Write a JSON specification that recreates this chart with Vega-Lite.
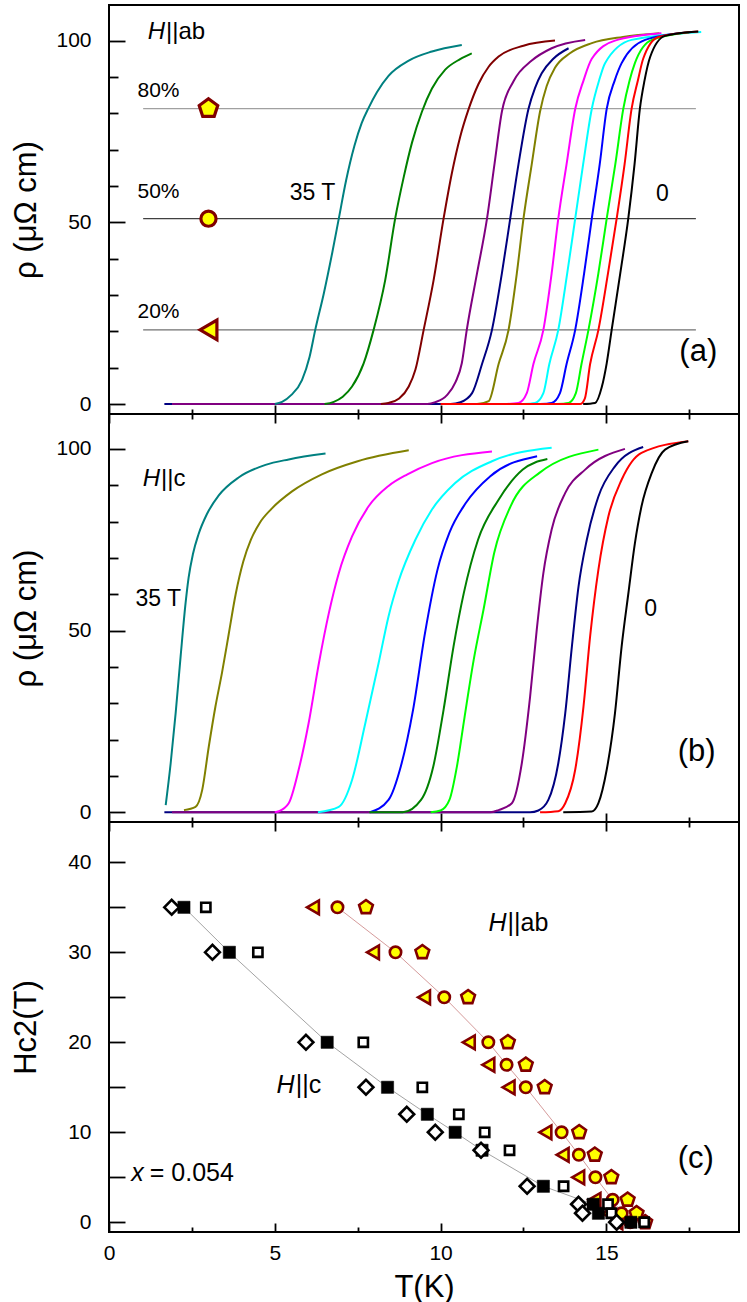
{
"$schema": "https://vega.github.io/schema/vega-lite/v6.json",
"padding": {"left": 9, "top": 4, "right": 0, "bottom": 0},
"spacing": 0,
"bounds": "flush",
"config": {
  "view": {"stroke": "black", "strokeWidth": 2},
  "font": "Liberation Sans",
  "axis": {"domain": false, "grid": false, "labelFont": "Liberation Sans", "labelFontSize": 21, "labelColor": "black", "tickColor": "black", "tickWidth": 1.8, "titleFont": "Liberation Sans", "titleFontSize": 31, "titleFontWeight": "normal", "titleColor": "black", "labelOverlap": false, "labelFlush": false, "labelBound": false}
},
"datasets": {
  "levels": [
    {"k": "ab80", "r": 81.3, "T": 1.03, "T2": 17.7},
    {"k": "ab50", "r": 51.0, "T": 1.03, "T2": 17.7},
    {"k": "ab20", "r": 20.4, "T": 1.03, "T2": 17.7}
  ],
  "levelMarks": [
    {"k": "ab80", "r": 81.3, "T": 3.0},
    {"k": "ab50", "r": 51.0, "T": 3.0},
    {"k": "ab20", "r": 20.4, "T": 3.0}
  ],
  "curvesA": [
    {"s":"a17.5","T":1.67,"r":0},{"s":"a17.5","T":10.3,"r":0},{"s":"a17.5","T":10.6,"r":0.5},{"s":"a17.5","T":10.95,"r":3},{"s":"a17.5","T":11.25,"r":11},{"s":"a17.5","T":11.55,"r":20.4},{"s":"a17.5","T":11.85,"r":36},{"s":"a17.5","T":12.1,"r":51},{"s":"a17.5","T":12.35,"r":66},{"s":"a17.5","T":12.65,"r":81.2},{"s":"a17.5","T":12.85,"r":87},{"s":"a17.5","T":13.05,"r":91},{"s":"a17.5","T":13.4,"r":95},{"s":"a17.5","T":13.86,"r":97.9},
    {"s":"a20","T":1.9,"r":0},{"s":"a20","T":9.6,"r":0},{"s":"a20","T":9.84,"r":0.5},{"s":"a20","T":10.2,"r":2.5},{"s":"a20","T":10.45,"r":6},{"s":"a20","T":10.64,"r":11.2},{"s":"a20","T":10.79,"r":20.4},{"s":"a20","T":11.1,"r":36},{"s":"a20","T":11.4,"r":51},{"s":"a20","T":11.63,"r":66.3},{"s":"a20","T":11.85,"r":80.5},{"s":"a20","T":12.2,"r":88.8},{"s":"a20","T":12.75,"r":94.5},{"s":"a20","T":13.35,"r":97.9},{"s":"a20","T":14.36,"r":100.2},
    {"s":"a35","T":5.0,"r":0},{"s":"a35","T":5.22,"r":0.6},{"s":"a35","T":5.5,"r":2.5},{"s":"a35","T":5.82,"r":6.6},{"s":"a35","T":6.05,"r":13},{"s":"a35","T":6.22,"r":20.4},{"s":"a35","T":6.48,"r":30.5},{"s":"a35","T":6.73,"r":41.5},{"s":"a35","T":6.93,"r":51},{"s":"a35","T":7.15,"r":61.5},{"s":"a35","T":7.4,"r":71},{"s":"a35","T":7.62,"r":77.3},{"s":"a35","T":7.83,"r":81.5},{"s":"a35","T":8.08,"r":85.8},{"s":"a35","T":8.43,"r":90.3},{"s":"a35","T":9.04,"r":94.5},{"s":"a35","T":9.74,"r":97},{"s":"a35","T":10.64,"r":98.8},
    {"s":"a30","T":6.5,"r":0},{"s":"a30","T":6.78,"r":0.6},{"s":"a30","T":7.05,"r":2},{"s":"a30","T":7.33,"r":4.8},{"s":"a30","T":7.68,"r":11.2},{"s":"a30","T":7.98,"r":20.4},{"s":"a30","T":8.33,"r":34.1},{"s":"a30","T":8.63,"r":51},{"s":"a30","T":8.89,"r":62.5},{"s":"a30","T":9.14,"r":72},{"s":"a30","T":9.44,"r":80.5},{"s":"a30","T":9.74,"r":86.8},{"s":"a30","T":10.14,"r":92},{"s":"a30","T":10.59,"r":94.9},{"s":"a30","T":10.94,"r":96.5},
    {"s":"a25","T":8.2,"r":0},{"s":"a25","T":8.43,"r":0.3},{"s":"a25","T":8.75,"r":1.5},{"s":"a25","T":9.04,"r":4.8},{"s":"a25","T":9.24,"r":9.4},{"s":"a25","T":9.49,"r":20.4},{"s":"a25","T":9.79,"r":34.1},{"s":"a25","T":10.09,"r":51},{"s":"a25","T":10.34,"r":63.5},{"s":"a25","T":10.59,"r":73.5},{"s":"a25","T":10.84,"r":81},{"s":"a25","T":11.14,"r":88},{"s":"a25","T":11.45,"r":92.8},{"s":"a25","T":11.75,"r":95.6},{"s":"a25","T":12.5,"r":98.6},{"s":"a25","T":13.45,"r":100},
    {"s":"a15","T":11.1,"r":0},{"s":"a15","T":11.45,"r":0.8},{"s":"a15","T":11.75,"r":11},{"s":"a15","T":12.05,"r":20.4},{"s":"a15","T":12.3,"r":36},{"s":"a15","T":12.5,"r":51},{"s":"a15","T":12.75,"r":66},{"s":"a15","T":13.0,"r":80.5},{"s":"a15","T":13.2,"r":87.5},{"s":"a15","T":13.45,"r":92.5},{"s":"a15","T":13.9,"r":96.5},{"s":"a15","T":14.56,"r":99.3},{"s":"a15","T":15.5,"r":101},{"s":"a15","T":16.6,"r":102},
    {"s":"a10","T":12.0,"r":0},{"s":"a10","T":12.35,"r":0.3},{"s":"a10","T":12.6,"r":3},{"s":"a10","T":12.8,"r":11},{"s":"a10","T":13.1,"r":20.4},{"s":"a10","T":13.35,"r":36},{"s":"a10","T":13.55,"r":51},{"s":"a10","T":13.8,"r":66},{"s":"a10","T":14.06,"r":81.2},{"s":"a10","T":14.31,"r":89},{"s":"a10","T":14.56,"r":95},{"s":"a10","T":15.26,"r":100},{"s":"a10","T":16.66,"r":102},
    {"s":"a7.5","T":12.5,"r":0},{"s":"a7.5","T":12.85,"r":0.3},{"s":"a7.5","T":13.1,"r":3},{"s":"a7.5","T":13.28,"r":11},{"s":"a7.5","T":13.55,"r":20.4},{"s":"a7.5","T":13.82,"r":36},{"s":"a7.5","T":14.06,"r":51},{"s":"a7.5","T":14.3,"r":66},{"s":"a7.5","T":14.56,"r":81.2},{"s":"a7.5","T":14.78,"r":89},{"s":"a7.5","T":14.96,"r":93.8},{"s":"a7.5","T":15.76,"r":100.2},{"s":"a7.5","T":17.86,"r":102.4},
    {"s":"a5","T":13.0,"r":0},{"s":"a5","T":13.35,"r":0.3},{"s":"a5","T":13.6,"r":3},{"s":"a5","T":13.8,"r":11},{"s":"a5","T":14.06,"r":20.4},{"s":"a5","T":14.33,"r":36},{"s":"a5","T":14.56,"r":51},{"s":"a5","T":14.8,"r":66},{"s":"a5","T":15.01,"r":81.2},{"s":"a5","T":15.25,"r":89},{"s":"a5","T":15.46,"r":93.8},{"s":"a5","T":16.17,"r":100.2},{"s":"a5","T":17.5,"r":102.3},
    {"s":"a2.5","T":13.5,"r":0},{"s":"a2.5","T":13.86,"r":0.3},{"s":"a2.5","T":14.08,"r":3},{"s":"a2.5","T":14.25,"r":11},{"s":"a2.5","T":14.46,"r":20.4},{"s":"a2.5","T":14.76,"r":36},{"s":"a2.5","T":15.01,"r":51},{"s":"a2.5","T":15.27,"r":66},{"s":"a2.5","T":15.51,"r":81.2},{"s":"a2.5","T":15.7,"r":89},{"s":"a2.5","T":15.86,"r":93.8},{"s":"a2.5","T":16.37,"r":100.2},{"s":"a2.5","T":17.5,"r":102.3},
    {"s":"a1","T":10.0,"r":0},{"s":"a1","T":14.21,"r":0},{"s":"a1","T":14.35,"r":1.5},{"s":"a1","T":14.51,"r":11},{"s":"a1","T":14.76,"r":20.4},{"s":"a1","T":15.05,"r":36},{"s":"a1","T":15.31,"r":51},{"s":"a1","T":15.55,"r":66},{"s":"a1","T":15.76,"r":81.2},{"s":"a1","T":15.95,"r":89},{"s":"a1","T":16.11,"r":95},{"s":"a1","T":16.57,"r":101},{"s":"a1","T":17.77,"r":102.5},
    {"s":"a0","T":14.3,"r":0},{"s":"a0","T":14.66,"r":0.3},{"s":"a0","T":14.86,"r":4.6},{"s":"a0","T":15.01,"r":11.2},{"s":"a0","T":15.16,"r":20.4},{"s":"a0","T":15.42,"r":36},{"s":"a0","T":15.66,"r":51},{"s":"a0","T":15.85,"r":66},{"s":"a0","T":16.01,"r":81.2},{"s":"a0","T":16.15,"r":89},{"s":"a0","T":16.32,"r":95.5},{"s":"a0","T":16.77,"r":101.3},{"s":"a0","T":17.77,"r":102.5}
  ],
  "curvesB": [
    {"s":"b2","T":1.67,"r":0},{"s":"b2","T":12.7,"r":0},{"s":"b2","T":12.95,"r":0.5},{"s":"b2","T":13.25,"r":3.4},{"s":"b2","T":13.55,"r":13.5},{"s":"b2","T":13.76,"r":27.3},{"s":"b2","T":13.96,"r":45.6},{"s":"b2","T":14.16,"r":62.1},{"s":"b2","T":14.41,"r":75},{"s":"b2","T":14.76,"r":86.9},{"s":"b2","T":15.26,"r":95.2},{"s":"b2","T":16.11,"r":100.5},
    {"s":"b4","T":1.9,"r":0},{"s":"b4","T":11.5,"r":0},{"s":"b4","T":11.75,"r":0.6},{"s":"b4","T":12.15,"r":2.5},{"s":"b4","T":12.45,"r":13.5},{"s":"b4","T":12.7,"r":31.8},{"s":"b4","T":12.9,"r":50.2},{"s":"b4","T":13.1,"r":65.8},{"s":"b4","T":13.35,"r":77.8},{"s":"b4","T":13.76,"r":87.9},{"s":"b4","T":14.36,"r":94.3},{"s":"b4","T":15.56,"r":100},
    {"s":"b35","T":1.71,"r":2.0},{"s":"b35","T":1.86,"r":13.5},{"s":"b35","T":2.01,"r":27.3},{"s":"b35","T":2.16,"r":42.9},{"s":"b35","T":2.31,"r":57.6},{"s":"b35","T":2.4,"r":64.5},{"s":"b35","T":2.53,"r":71},{"s":"b35","T":2.7,"r":76.5},{"s":"b35","T":2.95,"r":82},{"s":"b35","T":3.31,"r":87.2},{"s":"b35","T":3.92,"r":92.2},{"s":"b35","T":4.72,"r":95.6},{"s":"b35","T":5.42,"r":97.1},{"s":"b35","T":6.53,"r":98.7},
    {"s":"b30","T":2.26,"r":0.6},{"s":"b30","T":2.61,"r":1.5},{"s":"b30","T":2.81,"r":6.1},{"s":"b30","T":3.01,"r":18.1},{"s":"b30","T":3.21,"r":29.1},{"s":"b30","T":3.41,"r":38.5},{"s":"b30","T":3.61,"r":49},{"s":"b30","T":3.82,"r":60},{"s":"b30","T":4.05,"r":69},{"s":"b30","T":4.28,"r":75},{"s":"b30","T":4.55,"r":79.7},{"s":"b30","T":4.9,"r":83.5},{"s":"b30","T":5.52,"r":88.3},{"s":"b30","T":6.42,"r":93},{"s":"b30","T":7.5,"r":96.6},{"s":"b30","T":9.04,"r":99.6},
    {"s":"b20","T":5.0,"r":0},{"s":"b20","T":5.12,"r":0.3},{"s":"b20","T":5.42,"r":2.5},{"s":"b20","T":5.72,"r":11.7},{"s":"b20","T":6.02,"r":24.5},{"s":"b20","T":6.33,"r":41},{"s":"b20","T":6.63,"r":54.8},{"s":"b20","T":6.93,"r":65.8},{"s":"b20","T":7.33,"r":75.9},{"s":"b20","T":7.83,"r":84.2},{"s":"b20","T":8.43,"r":89.8},{"s":"b20","T":9.0,"r":93},{"s":"b20","T":9.74,"r":96.1},{"s":"b20","T":11.55,"r":99.3},
    {"s":"b15","T":6.3,"r":0},{"s":"b15","T":6.93,"r":1.5},{"s":"b15","T":7.33,"r":8.9},{"s":"b15","T":7.73,"r":24.5},{"s":"b15","T":8.13,"r":41},{"s":"b15","T":8.43,"r":53.9},{"s":"b15","T":8.73,"r":63.5},{"s":"b15","T":9.24,"r":75},{"s":"b15","T":9.74,"r":83.3},{"s":"b15","T":10.44,"r":90.6},{"s":"b15","T":11.55,"r":96.6},{"s":"b15","T":13.35,"r":100.3},
    {"s":"b12","T":7.87,"r":0},{"s":"b12","T":8.43,"r":3.4},{"s":"b12","T":8.8,"r":12.6},{"s":"b12","T":9.17,"r":28.2},{"s":"b12","T":9.53,"r":49.3},{"s":"b12","T":9.9,"r":66.5},{"s":"b12","T":10.27,"r":77},{"s":"b12","T":10.76,"r":85.1},{"s":"b12","T":11.5,"r":92.5},{"s":"b12","T":12.91,"r":98},
    {"s":"b10","T":7.85,"r":0},{"s":"b10","T":8.86,"r":0},{"s":"b10","T":9.41,"r":3.4},{"s":"b10","T":9.78,"r":12.6},{"s":"b10","T":10.09,"r":28.2},{"s":"b10","T":10.39,"r":45.6},{"s":"b10","T":10.7,"r":60.3},{"s":"b10","T":11.13,"r":75},{"s":"b10","T":11.75,"r":86},{"s":"b10","T":12.48,"r":94.3},{"s":"b10","T":13.22,"r":97.2},
    {"s":"b8","T":9.7,"r":0},{"s":"b8","T":10.0,"r":0.5},{"s":"b8","T":10.27,"r":3.5},{"s":"b8","T":10.5,"r":13},{"s":"b8","T":10.72,"r":26},{"s":"b8","T":11.0,"r":42},{"s":"b8","T":11.3,"r":56},{"s":"b8","T":11.62,"r":71.5},{"s":"b8","T":12.11,"r":84.2},{"s":"b8","T":12.98,"r":93.4},{"s":"b8","T":14.76,"r":99.8},
    {"s":"b1","T":13.0,"r":0},{"s":"b1","T":13.55,"r":0.3},{"s":"b1","T":13.76,"r":2.5},{"s":"b1","T":14.06,"r":11.7},{"s":"b1","T":14.31,"r":29.1},{"s":"b1","T":14.51,"r":48.4},{"s":"b1","T":14.76,"r":66.8},{"s":"b1","T":15.06,"r":81.4},{"s":"b1","T":15.46,"r":91.5},{"s":"b1","T":16.06,"r":98.9},{"s":"b1","T":17.47,"r":102.1},
    {"s":"b0","T":13.7,"r":0},{"s":"b0","T":14.56,"r":0.2},{"s":"b0","T":14.76,"r":2.5},{"s":"b0","T":15.01,"r":11.7},{"s":"b0","T":15.26,"r":27.3},{"s":"b0","T":15.46,"r":45.6},{"s":"b0","T":15.66,"r":60},{"s":"b0","T":15.86,"r":74},{"s":"b0","T":16.06,"r":84.2},{"s":"b0","T":16.37,"r":93.4},{"s":"b0","T":16.77,"r":99.8},{"s":"b0","T":17.47,"r":102.1}
  ],
  "hc2": [
    {"k":"ab20","H":35,"T":6.15},{"k":"ab20","H":30,"T":7.96},{"k":"ab20","H":25,"T":9.5},{"k":"ab20","H":20,"T":10.85},{"k":"ab20","H":17.5,"T":11.44},{"k":"ab20","H":15,"T":12.05},{"k":"ab20","H":10,"T":13.16},{"k":"ab20","H":7.5,"T":13.68},{"k":"ab20","H":5,"T":14.15},{"k":"ab20","H":2.5,"T":14.64},{"k":"ab20","H":1,"T":15.06},{"k":"ab20","H":0,"T":15.3},
    {"k":"ab50","H":35,"T":6.89},{"k":"ab50","H":30,"T":8.64},{"k":"ab50","H":25,"T":10.11},{"k":"ab50","H":20,"T":11.44},{"k":"ab50","H":17.5,"T":11.99},{"k":"ab50","H":15,"T":12.57},{"k":"ab50","H":10,"T":13.65},{"k":"ab50","H":7.5,"T":14.17},{"k":"ab50","H":5,"T":14.67},{"k":"ab50","H":2.5,"T":15.19},{"k":"ab50","H":1,"T":15.46},{"k":"ab50","H":0,"T":15.72},
    {"k":"ab80","H":35,"T":7.75},{"k":"ab80","H":30,"T":9.45},{"k":"ab80","H":25,"T":10.83},{"k":"ab80","H":20,"T":12.03},{"k":"ab80","H":17.5,"T":12.57},{"k":"ab80","H":15,"T":13.14},{"k":"ab80","H":10,"T":14.18},{"k":"ab80","H":7.5,"T":14.65},{"k":"ab80","H":5,"T":15.15},{"k":"ab80","H":2.5,"T":15.64},{"k":"ab80","H":1,"T":15.91},{"k":"ab80","H":0,"T":16.17},
    {"k":"c80","H":35,"T":2.92},{"k":"c80","H":30,"T":4.49},{"k":"c80","H":20,"T":7.67},{"k":"c80","H":15,"T":9.45},{"k":"c80","H":12,"T":10.55},{"k":"c80","H":10,"T":11.33},{"k":"c80","H":8,"T":12.08},{"k":"c80","H":4,"T":13.71},{"k":"c80","H":2,"T":15.05},{"k":"c80","H":1,"T":15.15},{"k":"c80","H":0,"T":16.14},
    {"k":"c50","H":35,"T":2.26},{"k":"c50","H":30,"T":3.63},{"k":"c50","H":20,"T":6.58},{"k":"c50","H":15,"T":8.4},{"k":"c50","H":12,"T":9.6},{"k":"c50","H":10,"T":10.44},{"k":"c50","H":8,"T":11.25},{"k":"c50","H":4,"T":13.1},{"k":"c50","H":2,"T":14.6},{"k":"c50","H":1,"T":14.76},{"k":"c50","H":0,"T":15.74},
    {"k":"c20","H":35,"T":1.89},{"k":"c20","H":30,"T":3.12},{"k":"c20","H":20,"T":5.94},{"k":"c20","H":15,"T":7.75},{"k":"c20","H":12,"T":8.98},{"k":"c20","H":10,"T":9.84},{"k":"c20","H":8,"T":11.22},{"k":"c20","H":4,"T":12.61},{"k":"c20","H":2,"T":14.16},{"k":"c20","H":1,"T":14.28},{"k":"c20","H":0,"T":15.31}
  ]
},
"vconcat": [
  {
    "width": 630, "height": 409,
    "layer": [
      {
        "data": {"name": "levels"},
        "mark": {"type": "rule", "strokeWidth": 1.3},
        "encoding": {
          "x": {"field": "T", "type": "quantitative", "scale": {"domain": [0, 19], "nice": false, "zero": false},
                "axis": {"values": [0,2.5,5,7.5,10,12.5,15,17.5], "labels": false, "title": null, "tickSize": {"condition": {"test": "datum.value % 5 === 0", "value": -9}, "value": -5}}},
          "x2": {"field": "T2"},
          "y": {"field": "r", "type": "quantitative", "scale": {"domain": [-2.75, 109.8], "nice": false, "zero": false},
                "axis": {"title": "ρ (μΩ cm)", "values": [0,10,20,30,40,50,60,70,80,90,100], "labelExpr": "datum.value % 50 === 0 ? datum.label : ''", "tickSize": {"condition": {"test": "datum.value % 50 === 0", "value": -16}, "value": -9}, "labelPadding": 34, "minExtent": 55, "maxExtent": 55, "titlePadding": 12}},
          "stroke": {"field": "k", "type": "nominal", "scale": {"domain": ["ab80", "ab50", "ab20"], "range": ["#a0a0a0", "#404040", "#707070"]}, "legend": null}
        }
      },
      {
        "data": {"name": "curvesA"},
        "mark": {"type": "line", "interpolate": "monotone", "strokeWidth": 2},
        "encoding": {
          "x": {"field": "T", "type": "quantitative"},
          "y": {"field": "r", "type": "quantitative"},
          "color": {"field": "s", "type": "nominal", "legend": null,
                    "scale": {"domain": ["a35","a30","a25","a20","a17.5","a15","a10","a7.5","a5","a2.5","a1","a0","b35","b30","b20","b15","b12","b10","b8","b4","b2","b1","b0"],
                              "range": ["#008080","#008000","#800000","#800080","#000080","#808000","#ff00ff","#00ffff","#0000ff","#00ff00","#ff0000","#000000","#008080","#808000","#ff00ff","#00ffff","#0000ff","#008000","#00ff00","#800080","#000080","#ff0000","#000000"]}}
        }
      },
      {
        "data": {"name": "levelMarks"},
        "mark": {"type": "point", "filled": true, "fill": "#ffff00", "stroke": "#800000", "strokeWidth": 3.2, "opacity": 1},
        "encoding": {
          "x": {"field": "T", "type": "quantitative"},
          "y": {"field": "r", "type": "quantitative"},
          "shape": {"field": "k", "type": "nominal", "legend": null, "scale": {"domain": ["ab20","ab50","ab80","c20","c50","c80"], "range": ["triangle-left", "circle", "M0,-1L0.951,-0.309L0.588,0.809L-0.588,0.809L-0.951,-0.309Z", "diamond", "square", "square"]}},
          "size": {"condition": {"test": "datum.k === 'ab50'", "value": 230}, "value": 380}
        }
      },
      {
        "data": {"values": [{"T": 1.69, "r": 102.4, "t": "H"}]},
        "mark": {"type": "text", "font": "Liberation Sans", "fontSize": 24, "fontStyle": "italic", "align": "right", "baseline": "middle", "color": "black"},
        "encoding": {"x": {"field": "T", "type": "quantitative"}, "y": {"field": "r", "type": "quantitative"}, "text": {"field": "t"}}
      },
      {
        "data": {"values": [{"T": 1.72, "r": 102.4, "t": "||ab"}]},
        "mark": {"type": "text", "font": "Liberation Sans", "fontSize": 24, "align": "left", "baseline": "middle", "color": "black"},
        "encoding": {"x": {"field": "T", "type": "quantitative"}, "y": {"field": "r", "type": "quantitative"}, "text": {"field": "t"}}
      },
      {
        "data": {"values": [{"T": 0.86, "r": 86.0, "t": "80%"}, {"T": 0.86, "r": 58.4, "t": "50%"}, {"T": 0.86, "r": 25.2, "t": "20%"}]},
        "mark": {"type": "text", "font": "Liberation Sans", "fontSize": 21, "align": "left", "baseline": "middle", "color": "black"},
        "encoding": {"x": {"field": "T", "type": "quantitative"}, "y": {"field": "r", "type": "quantitative"}, "text": {"field": "t"}}
      },
      {
        "data": {"values": [{"T": 5.45, "r": 58.0, "t": "35 T"}, {"T": 16.5, "r": 57.8, "t": "0"}]},
        "mark": {"type": "text", "font": "Liberation Sans", "fontSize": 23, "align": "left", "baseline": "middle", "color": "black"},
        "encoding": {"x": {"field": "T", "type": "quantitative"}, "y": {"field": "r", "type": "quantitative"}, "text": {"field": "t"}}
      },
      {
        "data": {"values": [{"T": 17.2, "r": 14.3, "t": "(a)"}]},
        "mark": {"type": "text", "font": "Liberation Sans", "fontSize": 31, "align": "left", "baseline": "middle", "color": "black"},
        "encoding": {"x": {"field": "T", "type": "quantitative"}, "y": {"field": "r", "type": "quantitative"}, "text": {"field": "t"}}
      }
    ]
  },
  {
    "width": 630, "height": 408,
    "resolve": {"axis": {"x": "independent"}},
    "layer": [
      {
        "data": {"name": "curvesB"},
        "mark": {"type": "line", "interpolate": "monotone", "strokeWidth": 2},
        "encoding": {
          "x": {"field": "T", "type": "quantitative", "scale": {"domain": [0, 19], "nice": false, "zero": false},
                "axis": {"values": [0,2.5,5,7.5,10,12.5,15,17.5], "labels": false, "title": null, "tickSize": {"condition": {"test": "datum.value % 5 === 0", "value": -9}, "value": -5}}},
          "y": {"field": "r", "type": "quantitative", "scale": {"domain": [-2.67, 109.6], "nice": false, "zero": false},
                "axis": {"title": "ρ (μΩ cm)", "values": [0,10,20,30,40,50,60,70,80,90,100], "labelExpr": "datum.value % 50 === 0 ? datum.label : ''", "tickSize": {"condition": {"test": "datum.value % 50 === 0", "value": -16}, "value": -9}, "labelPadding": 34, "minExtent": 55, "maxExtent": 55, "titlePadding": 12}},
          "color": {"field": "s", "type": "nominal", "legend": null,
                    "scale": {"domain": ["a35","a30","a25","a20","a17.5","a15","a10","a7.5","a5","a2.5","a1","a0","b35","b30","b20","b15","b12","b10","b8","b4","b2","b1","b0"],
                              "range": ["#008080","#008000","#800000","#800080","#000080","#808000","#ff00ff","#00ffff","#0000ff","#00ff00","#ff0000","#000000","#008080","#808000","#ff00ff","#00ffff","#0000ff","#008000","#00ff00","#800080","#000080","#ff0000","#000000"]}},
          "strokeWidth": {"condition": {"test": "datum.s === 'b8'", "value": 3.6}, "value": 2}
        }
      },
      {
        "data": {"values": [{"T": 1.54, "r": 91.8, "t": "H"}]},
        "mark": {"type": "text", "font": "Liberation Sans", "fontSize": 24, "fontStyle": "italic", "align": "right", "baseline": "middle", "color": "black"},
        "encoding": {"x": {"field": "T", "type": "quantitative", "axis": {"orient": "top", "values": [0,2.5,5,7.5,10,12.5,15,17.5], "labels": false, "title": null, "tickSize": {"condition": {"test": "datum.value % 5 === 0", "value": -9}, "value": -5}}}, "y": {"field": "r", "type": "quantitative"}, "text": {"field": "t"}}
      },
      {
        "data": {"values": [{"T": 1.57, "r": 91.8, "t": "||c"}]},
        "mark": {"type": "text", "font": "Liberation Sans", "fontSize": 24, "align": "left", "baseline": "middle", "color": "black"},
        "encoding": {"x": {"field": "T", "type": "quantitative", "axis": null}, "y": {"field": "r", "type": "quantitative"}, "text": {"field": "t"}}
      },
      {
        "data": {"values": [{"T": 0.8, "r": 58.7, "t": "35 T"}, {"T": 16.14, "r": 56.0, "t": "0"}]},
        "mark": {"type": "text", "font": "Liberation Sans", "fontSize": 23, "align": "left", "baseline": "middle", "color": "black"},
        "encoding": {"x": {"field": "T", "type": "quantitative", "axis": null}, "y": {"field": "r", "type": "quantitative"}, "text": {"field": "t"}}
      },
      {
        "data": {"values": [{"T": 17.15, "r": 16.6, "t": "(b)"}]},
        "mark": {"type": "text", "font": "Liberation Sans", "fontSize": 31, "align": "left", "baseline": "middle", "color": "black"},
        "encoding": {"x": {"field": "T", "type": "quantitative", "axis": null}, "y": {"field": "r", "type": "quantitative"}, "text": {"field": "t"}}
      }
    ]
  },
  {
    "width": 630, "height": 410,
    "resolve": {"axis": {"x": "independent"}},
    "layer": [
      {
        "data": {"name": "hc2"},
        "transform": [{"filter": "datum.k === 'c50'"}],
        "mark": {"type": "line", "stroke": "#999999", "strokeWidth": 0.9},
        "encoding": {
          "x": {"field": "T", "type": "quantitative", "scale": {"domain": [0, 19], "nice": false, "zero": false},
                "axis": {"title": "T(K)", "values": [0,2.5,5,7.5,10,12.5,15,17.5], "labelExpr": "datum.value % 5 === 0 ? datum.label : ''", "tickSize": {"condition": {"test": "datum.value % 5 === 0", "value": -9}, "value": -5}, "labelPadding": 19, "titlePadding": 5}},
          "y": {"field": "H", "type": "quantitative", "scale": {"domain": [-1.08, 44.48], "nice": false, "zero": false},
                "axis": {"title": "Hc2(T)", "values": [0,5,10,15,20,25,30,35,40], "labelExpr": "datum.value % 10 === 0 ? datum.label : ''", "tickSize": -16, "labelPadding": 34, "minExtent": 55, "maxExtent": 55, "titlePadding": 12}},
          "order": {"field": "H", "type": "quantitative", "sort": "descending"}
        }
      },
      {
        "data": {"name": "hc2"},
        "transform": [{"filter": "datum.k === 'ab50'"}],
        "mark": {"type": "line", "stroke": "#d09090", "strokeWidth": 0.9},
        "encoding": {
          "x": {"field": "T", "type": "quantitative", "axis": {"orient": "top", "values": [0,2.5,5,7.5,10,12.5,15,17.5], "labels": false, "title": null, "tickSize": {"condition": {"test": "datum.value % 5 === 0", "value": -9}, "value": -5}}},
          "y": {"field": "H", "type": "quantitative"},
          "order": {"field": "H", "type": "quantitative", "sort": "descending"}
        }
      },
      {
        "data": {"name": "hc2"},
        "mark": {"type": "point", "filled": true, "opacity": 1},
        "encoding": {
          "x": {"field": "T", "type": "quantitative", "axis": null},
          "y": {"field": "H", "type": "quantitative"},
          "shape": {"field": "k", "type": "nominal", "legend": null, "scale": {"domain": ["ab20","ab50","ab80","c20","c50","c80"], "range": ["triangle-left", "circle", "M0,-1L0.951,-0.309L0.588,0.809L-0.588,0.809L-0.951,-0.309Z", "diamond", "square", "square"]}},
          "fill": {"condition": [{"test": "datum.k === 'c50'", "value": "#000000"}, {"test": "datum.k === 'c20' || datum.k === 'c80'", "value": "#ffffff"}], "value": "#ffff00"},
          "stroke": {"condition": {"test": "datum.k === 'c20' || datum.k === 'c50' || datum.k === 'c80'", "value": "#000000"}, "value": "#800000"},
          "strokeWidth": {"condition": {"test": "datum.k === 'c50'", "value": 0.5}, "value": 2.6},
          "size": {"condition": [{"test": "datum.k === 'ab50'", "value": 130}, {"test": "datum.k === 'ab20'", "value": 190}, {"test": "datum.k === 'ab80'", "value": 210}, {"test": "datum.k === 'c20'", "value": 220}, {"test": "datum.k === 'c50'", "value": 150}], "value": 85}
        }
      },
      {
        "data": {"values": [{"T": 11.99, "H": 33.3, "t": "H"}, {"T": 5.6, "H": 15.25, "t": "H"}, {"T": 1.05, "H": 5.53, "t": "x"}]},
        "mark": {"type": "text", "font": "Liberation Sans", "fontSize": 25, "fontStyle": "italic", "align": "right", "baseline": "middle", "color": "black"},
        "encoding": {"x": {"field": "T", "type": "quantitative", "axis": null}, "y": {"field": "H", "type": "quantitative"}, "text": {"field": "t"}}
      },
      {
        "data": {"values": [{"T": 12.02, "H": 33.3, "t": "||ab"}, {"T": 5.63, "H": 15.25, "t": "||c"}, {"T": 1.23, "H": 5.53, "t": "= 0.054"}]},
        "mark": {"type": "text", "font": "Liberation Sans", "fontSize": 25, "align": "left", "baseline": "middle", "color": "black"},
        "encoding": {"x": {"field": "T", "type": "quantitative", "axis": null}, "y": {"field": "H", "type": "quantitative"}, "text": {"field": "t"}}
      },
      {
        "data": {"values": [{"T": 17.15, "H": 7.0, "t": "(c)"}]},
        "mark": {"type": "text", "font": "Liberation Sans", "fontSize": 31, "align": "left", "baseline": "middle", "color": "black"},
        "encoding": {"x": {"field": "T", "type": "quantitative", "axis": null}, "y": {"field": "H", "type": "quantitative"}, "text": {"field": "t"}}
      }
    ]
  }
]
}
